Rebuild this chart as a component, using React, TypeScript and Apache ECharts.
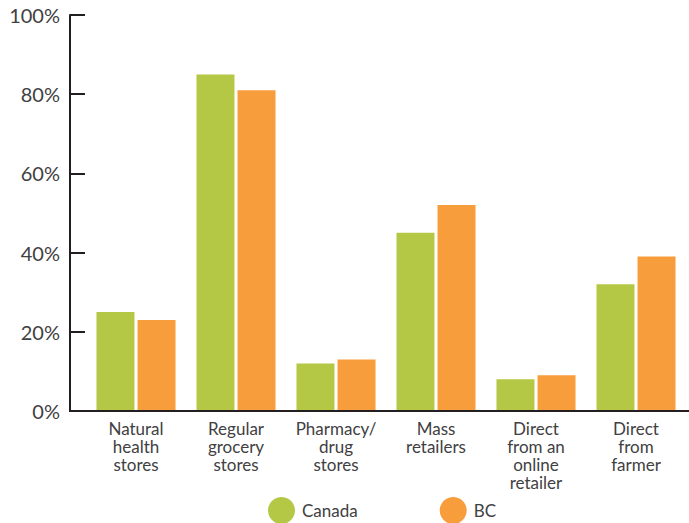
import React, { useEffect, useRef } from "react";
import * as echarts from "echarts";

const categories = [
  "Natural\nhealth\nstores",
  "Regular\ngrocery\nstores",
  "Pharmacy/\ndrug\nstores",
  "Mass\nretailers",
  "Direct\nfrom an\nonline\nretailer",
  "Direct\nfrom\nfarmer",
];
const canada = [25, 85, 12, 45, 8, 32];
const bc = [23, 81, 13, 52, 9, 39];
const yTicks = { min: 0, max: 100, interval: 20 };

const GREEN = "#b4c845";
const ORANGE = "#f79d3b";
const AXIS = "#231f20";
const TEXT = "#414042";
const FONT = "Lato, 'Open Sans', sans-serif";

export default function App() {
  const ref = useRef<HTMLDivElement>(null);
  useEffect(() => {
    if (!ref.current) return;
    const chart = echarts.init(ref.current, null, { renderer: "svg" });
    chart.setOption({
      animation: false,
      textStyle: { fontFamily: FONT },
      grid: { left: 86, right: 3, top: 15, bottom: 112, containLabel: false },
      legend: {
        data: ["Canada", "BC"],
        left: 263,
        top: 492,
        icon: "circle",
        itemWidth: 27,
        itemHeight: 27,
        itemGap: 82,
        textStyle: { fontSize: 17, color: TEXT, fontFamily: FONT, padding: [0, 0, 0, 2] },
      },
      xAxis: {
        type: "category",
        data: categories,
        axisLine: { show: false },
        axisTick: { show: false },
        axisLabel: {
          interval: 0,
          fontSize: 17,
          lineHeight: 18,
          color: TEXT,
          margin: 8,
          fontFamily: FONT,
        },
      },
      yAxis: {
        type: "value",
        min: yTicks.min,
        max: yTicks.max,
        interval: yTicks.interval,
        offset: 16,
        axisLine: { show: true, lineStyle: { color: AXIS, width: 2 } },
        axisTick: { show: true, inside: true, length: 15, lineStyle: { color: AXIS, width: 2 } },
        splitLine: { show: false },
        axisLabel: {
          formatter: "{value}%",
          fontSize: 20,
          color: TEXT,
          margin: 10,
          fontFamily: FONT,
          padding: [5, 0, 0, 0],
        },
      },
      series: [
        {
          name: "Canada",
          type: "bar",
          data: canada,
          barWidth: 38,
          barGap: "8%",
          itemStyle: { color: GREEN },
        },
        {
          name: "BC",
          type: "bar",
          data: bc,
          barWidth: 38,
          itemStyle: { color: ORANGE },
        },
      ],
      graphic: [
        {
          type: "line",
          shape: { x1: 69, y1: 411, x2: 689, y2: 411 },
          style: { stroke: AXIS, lineWidth: 2 },
          z: 100,
        },
      ],
    });
    return () => chart.dispose();
  }, []);
  return <div ref={ref} style={{ width: 689, height: 523, position: "absolute", left: 0, top: 0 }} />;
}
